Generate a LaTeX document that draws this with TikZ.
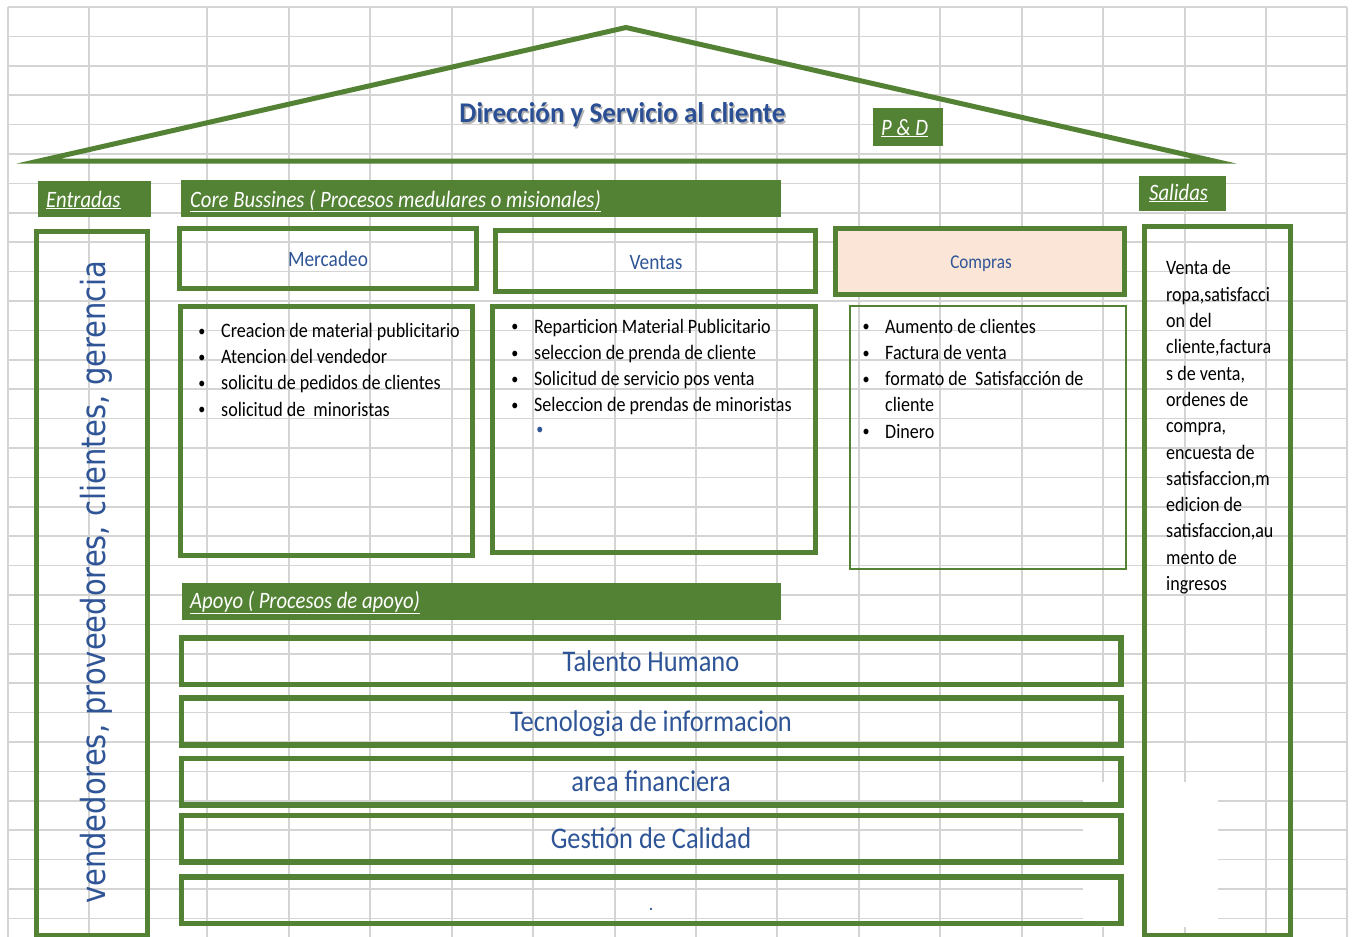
\documentclass[tikz,border=0pt]{standalone}
\usepackage{fontspec}
\setmainfont[FakeStretch=0.88]{Carlito}
\newfontfamily\vfont[FakeStretch=0.87]{DejaVu Sans}
\definecolor{grn}{HTML}{548235}
\definecolor{txtblue}{HTML}{2F5597}
\definecolor{titleblue}{HTML}{2B4F94}
\definecolor{gridc}{HTML}{D4D4D4}
\definecolor{peach}{HTML}{FBE5D6}
\begin{document}
\begin{tikzpicture}[x=1pt,y=-1pt,
  gridline/.style={draw=gridc, line width=1.5pt},
  gbar/.style={fill=grn, draw=none, rectangle, inner sep=0},
  lbl/.style={text=white, font=\fontsize{23.5}{23.5}\selectfont\itshape, anchor=base west, inner sep=0},
  thickbox/.style={draw=grn, line width=5pt, rectangle, inner sep=0},
  thinbox/.style={draw=grn, line width=1.2pt, rectangle, inner sep=0},
  bodytxt/.style={anchor=base west, inner sep=0, font=\fontsize{20.5}{26.3}\selectfont},
  bulletmark/.style={anchor=base, inner sep=0, font=\fontsize{16}{16}\selectfont},
  heading/.style={anchor=base, inner sep=0, text=txtblue},
  suptxt/.style={anchor=base, inner sep=0, text=txtblue, font=\fontsize{30}{30}\selectfont}
]
\useasboundingbox (0,0) rectangle (1352,937);
\fill[white] (0,0) rectangle (1352,937);
% grid
\foreach \x in {8,89,207,289,370,452,533,615,696,777,859,940,1022,1103,1185,1266,1347}
  \draw[gridline] (\x,7) -- (\x,937);
\foreach \k in {0,...,31}
  \draw[gridline] (8,{7+29.4*\k}) -- (1347,{7+29.4*\k});
\fill[white] (1083,782) rectangle (1218,927);

% roof
\draw[grn, line width=5pt, line join=miter, miter limit=12] (39,161) -- (626,27.5) -- (1214,161) -- cycle;
\node[anchor=base, inner sep=0, text=black!30, font=\fontsize{28.5}{28.5}\selectfont\bfseries] (titleshadow) at (624,124) {\scalebox{1.08}[1]{Dirección y Servicio al cliente}};
\node[anchor=base, inner sep=0, text=titleblue, font=\fontsize{28.5}{28.5}\selectfont\bfseries] (title) at (622.5,122.3) {\scalebox{1.08}[1]{Dirección y Servicio al cliente}};

% green label bars
\node[gbar, minimum width=113pt, minimum height=36pt] (entbar) at (94.5,199) {};
\node[lbl] (entlbl) at (46,207) {\underline{Entradas}};
\node[gbar, minimum width=600pt, minimum height=37pt] (corebar) at (481,198.5) {};
\node[lbl] (corelbl) at (190,207) {\underline{Core Bussines ( Procesos medulares o misionales)}};
\node[gbar, minimum width=70.5pt, minimum height=38pt] (pdbar) at (907.75,127) {};
\node[lbl] (pdlbl) at (881,135) {\underline{P \& D}};
\node[gbar, minimum width=87pt, minimum height=35pt] (salbar) at (1182.5,193.5) {};
\node[lbl] (sallbl) at (1149,200) {\underline{Salidas}};
\node[gbar, minimum width=599pt, minimum height=37pt] (apobar) at (481.5,601.5) {};
\node[lbl] (apolbl) at (190,608) {\underline{Apoyo ( Procesos de apoyo)}};

% side boxes
\node[thickbox, minimum width=111pt, minimum height=703.5pt] (entbox) at (92,583.25) {};
\node[rotate=90, anchor=base west, inner sep=0, text=txtblue, font=\vfont\fontsize{33.3}{33.3}\selectfont] (enttxt) at (105,904) {vendedores, proveedores, clientes, gerencia};
\node[thickbox, minimum width=146.5pt, minimum height=709pt] (salbox) at (1217.25,580.5) {};
\node[bodytxt, align=left, anchor=north west, text depth=0pt] (saltxt) at (1166,260.5) {Venta de\\ropa,satisfacci\\on del\\cliente,factura\\s de venta,\\ordenes de\\compra,\\encuesta de\\satisfaccion,m\\edicion de\\satisfaccion,au\\mento de\\ingresos};

% process headers
\node[thickbox, minimum width=296.5pt, minimum height=60pt] (merchead) at (327.75,258.5) {};
\node[heading, font=\fontsize{22}{22}\selectfont] (merclbl) at (328,266.7) {Mercadeo};
\node[thickbox, minimum width=320pt, minimum height=61pt] (venthead) at (655,261) {};
\node[heading, font=\fontsize{22}{22}\selectfont] (ventlbl) at (656,269.3) {Ventas};
\node[thickbox, fill=peach, minimum width=289pt, minimum height=66pt] (comphead) at (980,261.5) {};
\node[heading, font=\fontsize{19.5}{19.5}\selectfont] (complbl) at (981,268) {Compras};

% process contents
\node[thickbox, minimum width=292pt, minimum height=249pt] (merccont) at (326.5,431) {};
\node[bulletmark] (mb1) at (202,336) {•};
\node[bodytxt] (mt1) at (221,337.3) {Creacion de material publicitario};
\node[bulletmark] (mb2) at (202,362.3) {•};
\node[bodytxt] (mt2) at (221,363.6) {Atencion del vendedor};
\node[bulletmark] (mb3) at (202,388.6) {•};
\node[bodytxt] (mt3) at (221,389.9) {solicitu de pedidos de clientes};
\node[bulletmark] (mb4) at (202,414.9) {•};
\node[bodytxt] (mt4) at (221,416.2) {solicitud de\ \ minoristas};

\node[thickbox, minimum width=322.5pt, minimum height=246pt] (ventcont) at (653.75,429.5) {};
\node[bulletmark] (vb1) at (515,331.7) {•};
\node[bodytxt] (vt1) at (534,333) {Reparticion Material Publicitario};
\node[bulletmark] (vb2) at (515,358) {•};
\node[bodytxt] (vt2) at (534,359.3) {seleccion de prenda de cliente};
\node[bulletmark] (vb3) at (515,384.3) {•};
\node[bodytxt] (vt3) at (534,385.6) {Solicitud de servicio pos venta};
\node[bulletmark] (vb4) at (515,410.6) {•};
\node[bodytxt] (vt4) at (534,411.9) {Seleccion de prendas de minoristas};
\node[bulletmark, text=txtblue] (vb5) at (540,434) {•};

\node[thinbox, minimum width=276pt, minimum height=263pt] (compcont) at (988,437.5) {};
\node[bulletmark] (cb1) at (866,331.7) {•};
\node[bodytxt] (ct1) at (885,333) {Aumento de clientes};
\node[bulletmark] (cb2) at (866,358) {•};
\node[bodytxt] (ct2) at (885,359.3) {Factura de venta};
\node[bulletmark] (cb3) at (866,384.3) {•};
\node[bodytxt] (ct3) at (885,385.6) {formato de\ \ Satisfacción de};
\node[bodytxt] (ct3b) at (885,411.9) {cliente};
\node[bulletmark] (cb4) at (866,436.9) {•};
\node[bodytxt] (ct4) at (885,438.2) {Dinero};

% support boxes
\node[thickbox, line width=5.5pt, minimum width=939.5pt, minimum height=46.5pt] (sup1) at (651.25,661.25) {};
\node[suptxt] (sup1t) at (651,671.7) {Talento Humano};
\node[thickbox, line width=5.5pt, minimum width=939.5pt, minimum height=47pt] (sup2) at (651.25,721.5) {};
\node[suptxt] (sup2t) at (651,731.7) {Tecnologia de informacion};
\node[thickbox, line width=5.5pt, minimum width=939.5pt, minimum height=46.5pt] (sup3) at (651.25,781.75) {};
\node[suptxt] (sup3t) at (651,791.7) {area financiera};
\node[thickbox, line width=5.5pt, minimum width=939.5pt, minimum height=46.5pt] (sup4) at (651.25,838.75) {};
\node[suptxt] (sup4t) at (651,848.3) {Gestión de Calidad};
\node[thickbox, line width=5.5pt, minimum width=939.5pt, minimum height=46.5pt] (sup5) at (651.25,900.25) {};
\node[suptxt, font=\fontsize{20}{20}\selectfont] (sup5t) at (651,910) {.};
\end{tikzpicture}
\end{document}
